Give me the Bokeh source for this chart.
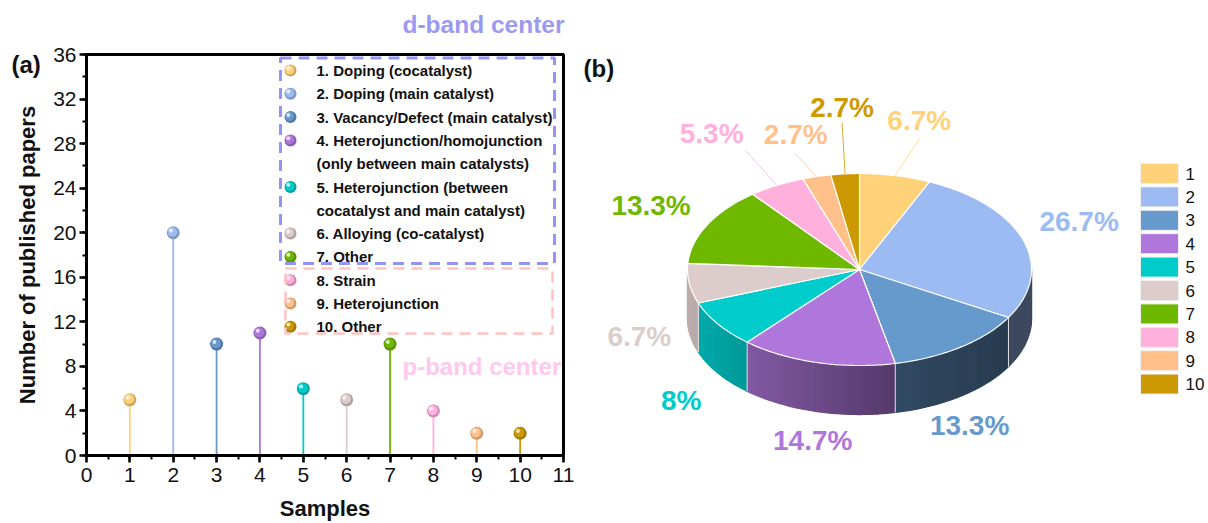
import numpy as np
from bokeh.plotting import figure
from bokeh.layouts import row
from bokeh.models import Range1d, FixedTicker, Label
from bokeh.core.properties import value
from bokeh.embed import file_html
from bokeh.resources import INLINE

# ---------------- data ----------------
samples = [1, 2, 3, 4, 5, 6, 7, 8, 9, 10]
papers = [5, 20, 10, 11, 6, 5, 10, 4, 2, 2]
colors = ["#FFD27A", "#9BBBF2", "#6699CC", "#AF77DC", "#00CCCC",
          "#DDCCCC", "#6FB800", "#FFB0DD", "#FFC08A", "#CC9900"]
strategies = [
    ["1. Doping (cocatalyst)"],
    ["2. Doping (main catalyst)"],
    ["3. Vacancy/Defect (main catalyst)"],
    ["4. Heterojunction/homojunction", "(only between main catalysts)"],
    ["5. Heterojunction (between", "cocatalyst and main catalyst)"],
    ["6. Alloying (co-catalyst)"],
    ["7. Other"],
    ["8. Strain"],
    ["9. Heterojunction"],
    ["10. Other"],
]
pie_keys = ["1", "2", "3", "4", "5", "6", "7", "8", "9", "10"]
x_ticks = list(range(0, 12))
y_ticks = list(range(0, 37, 4))

FONT = "Liberation Sans"


def shade(hex_color, f):
    h = hex_color.lstrip("#")
    r, g, b = (int(h[k:k + 2], 16) for k in (0, 2, 4))
    return "#%02x%02x%02x" % tuple(max(0, min(255, int(round(v * f)))) for v in (r, g, b))


# ---------------- panel (a): lollipop chart ----------------
FL, FR, FT, FB = 86, 563, 54, 455          # frame edges (px)
W_A, H_A = 575, 523
x_max, y_max = x_ticks[-1], y_ticks[-1]

p = figure(width=W_A, height=H_A, x_range=Range1d(0, x_max), y_range=Range1d(0, y_max),
           output_backend="svg", toolbar_location=None, title=None,
           min_border_left=FL, min_border_right=W_A - FR,
           min_border_top=FT, min_border_bottom=H_A - FB)
p.xgrid.visible = False
p.ygrid.visible = False
p.outline_line_color = "black"
p.outline_line_width = 3
p.background_fill_color = "white"
p.border_fill_color = "white"

p.xaxis.ticker = FixedTicker(ticks=x_ticks, minor_ticks=list(np.arange(0, x_max + 0.01, 0.5)))
p.yaxis.ticker = FixedTicker(ticks=y_ticks, minor_ticks=list(range(0, y_max + 1, 2)))
for ax in (p.xaxis[0], p.yaxis[0]):
    ax.axis_line_width = 3
    ax.axis_line_color = "black"
    ax.major_tick_in = 0
    ax.major_tick_out = 7
    ax.minor_tick_in = 0
    ax.minor_tick_out = 4
    ax.major_tick_line_width = 2.5
    ax.minor_tick_line_width = 2
    ax.major_label_text_font = FONT
    ax.major_label_text_font_size = "21px"
    ax.major_label_text_color = "#111111"
    ax.axis_label_text_font = FONT
    ax.axis_label_text_font_style = "bold"
    ax.axis_label_text_font_size = "22px"
    ax.axis_label_text_color = "#111111"
p.xaxis.axis_label = "Samples"
p.yaxis.axis_label = "Number of published papers"
p.xaxis.major_label_standoff = 5
p.yaxis.major_label_standoff = 3
p.xaxis.axis_label_standoff = 11
p.yaxis.axis_label_standoff = 10


def px_x(px):
    return (px - FL) / (FR - FL) * x_max


def px_y(py):
    return (FB - py) / (FB - FT) * y_max


dx1 = px_x(FL + 1)   # one pixel in data units
dy1 = px_y(FB - 1)


def balls(fig, xs, ys, cols, size=13):
    fig.scatter(xs, ys, size=size, fill_color=[shade(c, 0.8) for c in cols], line_color=None)
    fig.scatter([x - 0.8 * dx1 for x in xs], [y + 0.8 * dy1 for y in ys], size=size - 3,
                fill_color=cols, line_color=None)
    fig.scatter([x - 2.2 * dx1 for x in xs], [y + 2.2 * dy1 for y in ys], size=4,
                fill_color="white", fill_alpha=0.75, line_color=None)


# stems
p.segment(x0=samples, y0=[0] * len(samples), x1=samples, y1=papers,
          line_color=colors, line_width=1.8)
balls(p, samples, papers, colors)

# grouped legend
ROW0, ROW_STEP = 70, 23.3
mk_x, tx_x = px_x(290), px_x(316)
mk_y, txt_x, txt_y, txt = [], [], [], []
r = 0
for lines in strategies:
    mk_y.append(px_y(ROW0 + ROW_STEP * r))
    for ln in lines:
        txt_x.append(tx_x)
        txt_y.append(px_y(ROW0 + ROW_STEP * r))
        txt.append(ln)
        r += 1
balls(p, [mk_x] * len(mk_y), mk_y, colors, size=12)
p.text(x=txt_x, y=txt_y, text=txt, text_font=value(FONT), text_font_style="bold",
       text_font_size="15px", text_color="#111111", text_baseline="middle", text_align="left")

p.quad(left=[px_x(280)], right=[px_x(554)], top=[px_y(57.5)], bottom=[px_y(263)],
       fill_color=None, line_color="#9494F6", line_width=3, line_dash="11 7")
p.quad(left=[px_x(285)], right=[px_x(552)], top=[px_y(268)], bottom=[px_y(333)],
       fill_color=None, line_color="#FFC2C2", line_width=2.5, line_dash="11 7")

p.add_layout(Label(x=px_x(402), y=px_y(366), text="p-band center", text_font=FONT,
                   text_font_style="bold", text_font_size="24px", text_color="#FFC8EE",
                   text_baseline="middle", text_align="left"))
# texts lying outside the frame go into the top panel so they are not clipped
p.add_layout(Label(x=px_x(402), y=px_y(24), text="d-band center", text_font=FONT,
                   text_font_style="bold", text_font_size="24.5px", text_color="#9A9AF0",
                   text_baseline="middle", text_align="left"), "above")
p.add_layout(Label(x=px_x(11), y=px_y(64), text="(a)", text_font=FONT,
                   text_font_style="bold", text_font_size="24px", text_color="#111111",
                   text_baseline="middle", text_align="left"), "above")

# ---------------- panel (b): 3D pie ----------------
W_B = 1208 - W_A
q = figure(width=W_B, height=H_A, x_range=Range1d(W_A, 1208), y_range=Range1d(FB, FT),
           output_backend="svg", toolbar_location=None, title=None,
           min_border_left=0, min_border_right=0,
           min_border_top=FT, min_border_bottom=H_A - FB,
           x_axis_type=None, y_axis_type=None)
q.xgrid.visible = False
q.ygrid.visible = False
q.outline_line_color = None
q.background_fill_color = "white"
q.border_fill_color = "white"

CX, CY, RX, RY, DEPTH = 859, 269, 172, 96, 49
total = sum(papers)
shares = [v / total for v in papers]
bounds = np.concatenate([[0.0], np.cumsum(shares)]) * 2 * np.pi
mids = (bounds[:-1] + bounds[1:]) / 2


def rim(t):
    return CX + RX * np.sin(t), CY - RY * np.cos(t)


def side_factor(s):
    if s < 0.21:
        return 0.85 - 0.306 * (s + 1)
    return max(0.39, 0.48 - 0.136 * (s - 0.21))


# visible front wall, shaded from left (light) to right (dark)
side_xs, side_ys, side_cols = [], [], []
for i, c in enumerate(colors):
    a, b = max(bounds[i], np.pi / 2), min(bounds[i + 1], 1.5 * np.pi)
    if b <= a:
        continue
    n = max(2, int(np.degrees(b - a) / 1.5))
    ts = np.linspace(a, b, n + 1)
    for t0, t1 in zip(ts[:-1], ts[1:]):
        x0, y0 = rim(t0)
        x1, y1 = rim(t1)
        side_xs.append([x0, x1, x1, x0])
        side_ys.append([y0, y1, y1 + DEPTH, y0 + DEPTH])
        side_cols.append(shade(c, side_factor(np.sin((t0 + t1) / 2))))
q.patches(side_xs, side_ys, fill_color=side_cols, line_color=side_cols, line_width=1.3)

# wall seams between slices
seam_x0, seam_y0, seam_y1 = [], [], []
for t in bounds[1:-1]:
    if np.pi / 2 < t < 1.5 * np.pi:
        x, y = rim(t)
        seam_x0.append(x)
        seam_y0.append(y)
        seam_y1.append(y + DEPTH)
q.segment(x0=seam_x0, y0=seam_y0, x1=seam_x0, y1=seam_y1, line_color="#E4E4E4", line_width=1)

# top face
top_xs, top_ys = [], []
for i in range(len(papers)):
    n = max(3, int(np.degrees(bounds[i + 1] - bounds[i])) + 2)
    ts = np.linspace(bounds[i], bounds[i + 1], n)
    xs, ys = rim(ts)
    top_xs.append([CX] + list(xs))
    top_ys.append([CY] + list(ys))
q.patches(top_xs, top_ys, fill_color=colors, line_color="white", line_width=1.2)

# percentage labels
label_dx = [24, 56, 9, -4, -37, -50, -56, -65, -21, -3]
label_dy = [-55, -18, 78, 78, 76, 53, -20, -52, -42, -66]
leader = [True, False, False, False, False, False, False, True, True, True]
leader_dx = [1, 0, 0, 0, 0, 0, 0, 34, -1, 0]
leader_dy = [17, 0, 0, 0, 0, 0, 0, 17, 19, 15]

rx_m, ry_m = rim(mids)
lab_x = [rx_m[i] + label_dx[i] for i in range(len(papers))]
lab_y = [ry_m[i] + label_dy[i] for i in range(len(papers))]
pct = ["%g%%" % round(100 * s, 1) for s in shares]

ld = [i for i in range(len(papers)) if leader[i]]
q.segment(x0=[rx_m[i] for i in ld], y0=[ry_m[i] for i in ld],
          x1=[lab_x[i] + leader_dx[i] for i in ld], y1=[lab_y[i] + leader_dy[i] for i in ld],
          line_color=[colors[i] for i in ld], line_width=1, line_alpha=0.8)
q.text(x=lab_x, y=lab_y, text=pct, text_color=colors, text_font=value(FONT),
       text_font_style="bold", text_font_size="28px", text_align="center",
       text_baseline="middle")

# legend
LEG_TOP, LEG_STEP, LEG_H = 163, 23.4, 20
leg_top = [LEG_TOP + LEG_STEP * i for i in range(len(pie_keys))]
q.quad(left=[1140] * len(pie_keys), right=[1178] * len(pie_keys), top=leg_top,
       bottom=[t + LEG_H for t in leg_top], fill_color=colors, line_color="#EFEFEF", line_width=1)
q.text(x=[1185] * len(pie_keys), y=[t + LEG_H / 2 for t in leg_top], text=pie_keys,
       text_font=value(FONT), text_font_size="17px", text_color="#111111",
       text_baseline="middle", text_align="left")

q.text(x=[583], y=[68], text=["(b)"], text_font=value(FONT), text_font_style="bold",
       text_font_size="24px", text_color="#111111", text_baseline="middle", text_align="left")

layout = row(p, q)
open("out.html", "w").write(file_html(layout, INLINE))
